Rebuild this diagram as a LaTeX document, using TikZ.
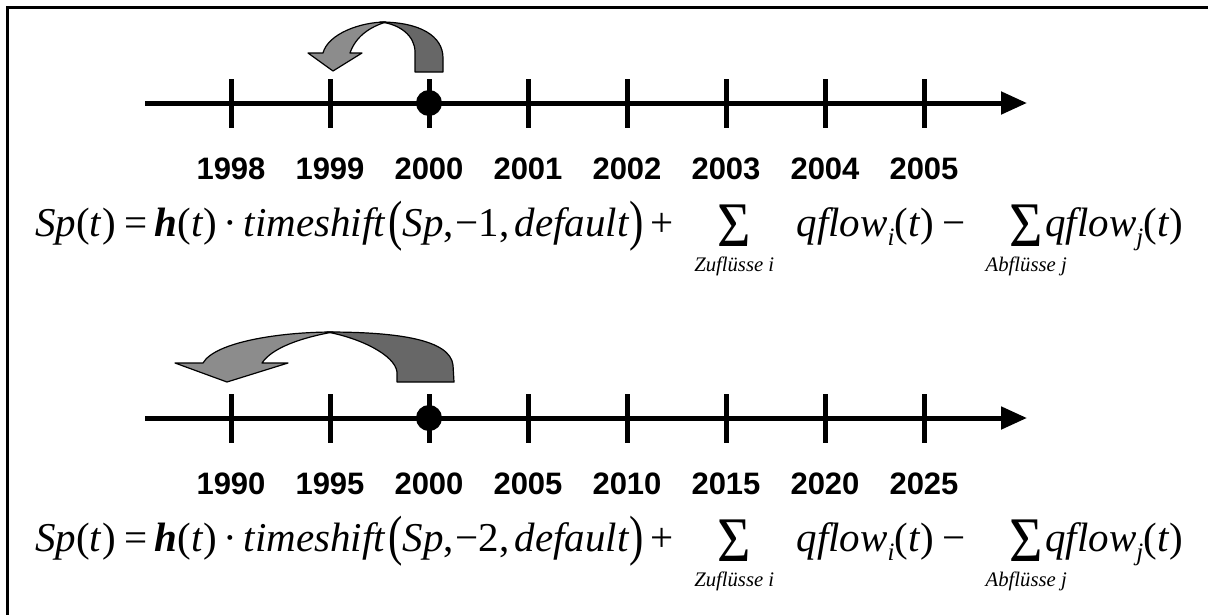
\documentclass[tikz,border=0pt]{standalone}
\usepackage{fontspec}
\setmainfont{Liberation Serif}
\newfontfamily\labelfont{Liberation Sans}
\usetikzlibrary{arrows.meta}
\newcommand{\eqsize}{\fontsize{41}{49}\selectfont}
\newcommand{\bp}[1]{\raisebox{-0.09em}{\scalebox{1.05}[1.35]{#1}}}
\newcommand{\sbs}[1]{\raisebox{-0.22em}{\fontsize{25}{25}\selectfont\textit{#1}}}
\newcommand{\bigsig}{\raisebox{-0.25em}{\scalebox{1.4}[1.55]{Σ}}}
\definecolor{darkband}{HTML}{676767}
\definecolor{lightband}{HTML}{8C8C8C}
\tikzset{
  axisline/.style={line width=5pt, -{Triangle[length=26pt,width=22pt]}},
  tickline/.style={line width=5pt},
  yearlabel/.style={font=\labelfont\bfseries\fontsize{31}{37}\selectfont, inner sep=0pt, anchor=base},
  eqpart/.style={font=\eqsize, inner sep=0pt, anchor=base west},
  sumsig/.style={font=\eqsize, inner sep=0pt, anchor=base},
  sumlabel/.style={font=\fontsize{20.7}{24}\selectfont\itshape, inner sep=0pt, anchor=north west},
  bandlight/.style={fill=lightband, draw=black, line width=1.2pt, line join=round},
  banddark/.style={fill=darkband, draw=black, line width=1.2pt, line join=round}
}
\begin{document}
\begin{tikzpicture}[x=1pt,y=-1pt]
\useasboundingbox (0,0) rectangle (1208,614);
\clip (0,0) rectangle (1208,614);
\draw[line width=3pt] (7,700) -- (7,7) -- (1300,7);

% ---------- timeline 1 ----------
\coordinate (a1s) at (145,103);
\coordinate (a1e) at (1027,103);
\draw[axisline] (a1s) -- (a1e);
\foreach \k/\yr in {0/1998,1/1999,2/2000,3/2001,4/2002,5/2003,6/2004,7/2005}{
  \coordinate (t1top\k) at ({231+99*\k},79);
  \coordinate (t1bot\k) at ({231+99*\k},128);
  \draw[tickline] (t1top\k) -- (t1bot\k);
  \node[yearlabel] (y1\k) at ({231+99*\k},179) {\yr};
}
\fill (429,103) circle (13);

% curved arrow 1
\draw[banddark] (415,72) -- (443,72) -- (443,58)
  .. controls (443,36) and (420,22) .. (380,22)
  .. controls (400,24) and (415,36) .. (415,52) -- cycle;
\draw[bandlight] (386,22) .. controls (360,22) and (328,34) .. (323,53)
  -- (308,53) -- (333,71) -- (362,53) -- (350,53)
  .. controls (356,36) and (370,27) .. (386,22) -- cycle;

% equation 1
\node[eqpart] (e1a) at (35,236) {\textit{Sp}(\textit{t})\hspace{9pt}=\hspace{7pt}\textbf{\textit{h}}(\textit{t})\hspace{6pt}·\hspace{7pt}\textit{timeshift}};
\node[eqpart] (e1b) at ([xshift=2pt]e1a.base east) {\bp{(}\textit{Sp},\hspace{2pt}−1,\hspace{5pt}\textit{default}\bp{)}\hspace{7pt}+};
\node[sumlabel] (e1l1) at ([xshift=20pt,yshift=-21pt]e1b.base east) {Zuflüsse i};
\node[sumsig] (e1s1) at (e1l1.north |- e1a.base) {\bigsig};
\path (e1l1.east |- e1a.base) ++(22,0) coordinate (e1cpos);
\node[eqpart] (e1c) at (e1cpos) {\textit{qflow}\sbs{i}(\textit{t})\hspace{8pt}−};
\node[sumlabel] (e1l2) at ([xshift=20pt,yshift=-21pt]e1c.base east) {Abflüsse j};
\node[sumsig] (e1s2) at (e1l2.north |- e1a.base) {\bigsig};
\node[eqpart] (e1d) at ([xshift=2pt]e1s2.base east) {\textit{qflow}\sbs{j}(\textit{t})};

% ---------- timeline 2 ----------
\coordinate (a2s) at (145,418);
\coordinate (a2e) at (1027,418);
\draw[axisline] (a2s) -- (a2e);
\foreach \k/\yr in {0/1990,1/1995,2/2000,3/2005,4/2010,5/2015,6/2020,7/2025}{
  \coordinate (t2top\k) at ({231+99*\k},394);
  \coordinate (t2bot\k) at ({231+99*\k},443);
  \draw[tickline] (t2top\k) -- (t2bot\k);
  \node[yearlabel] (y2\k) at ({231+99*\k},494) {\yr};
}
\fill (429,418) circle (13);

% curved arrow 2
\draw[banddark] (397,382) -- (454,382) -- (453,365)
  .. controls (450,340) and (400,332) .. (327,332)
  .. controls (360,338) and (395,355) .. (397,372) -- cycle;
\draw[bandlight] (333,332) .. controls (280,332) and (215,342) .. (203,363)
  -- (175,363) -- (227,382) -- (288,363) -- (262,363)
  .. controls (272,348) and (300,338) .. (333,332) -- cycle;

% equation 2
\node[eqpart] (e2a) at (35,551) {\textit{Sp}(\textit{t})\hspace{9pt}=\hspace{7pt}\textbf{\textit{h}}(\textit{t})\hspace{6pt}·\hspace{7pt}\textit{timeshift}};
\node[eqpart] (e2b) at ([xshift=2pt]e2a.base east) {\bp{(}\textit{Sp},\hspace{2pt}−2,\hspace{5pt}\textit{default}\bp{)}\hspace{7pt}+};
\node[sumlabel] (e2l1) at ([xshift=20pt,yshift=-21pt]e2b.base east) {Zuflüsse i};
\node[sumsig] (e2s1) at (e2l1.north |- e2a.base) {\bigsig};
\path (e2l1.east |- e2a.base) ++(22,0) coordinate (e2cpos);
\node[eqpart] (e2c) at (e2cpos) {\textit{qflow}\sbs{i}(\textit{t})\hspace{8pt}−};
\node[sumlabel] (e2l2) at ([xshift=20pt,yshift=-21pt]e2c.base east) {Abflüsse j};
\node[sumsig] (e2s2) at (e2l2.north |- e2a.base) {\bigsig};
\node[eqpart] (e2d) at ([xshift=2pt]e2s2.base east) {\textit{qflow}\sbs{j}(\textit{t})};
\end{tikzpicture}
\end{document}
